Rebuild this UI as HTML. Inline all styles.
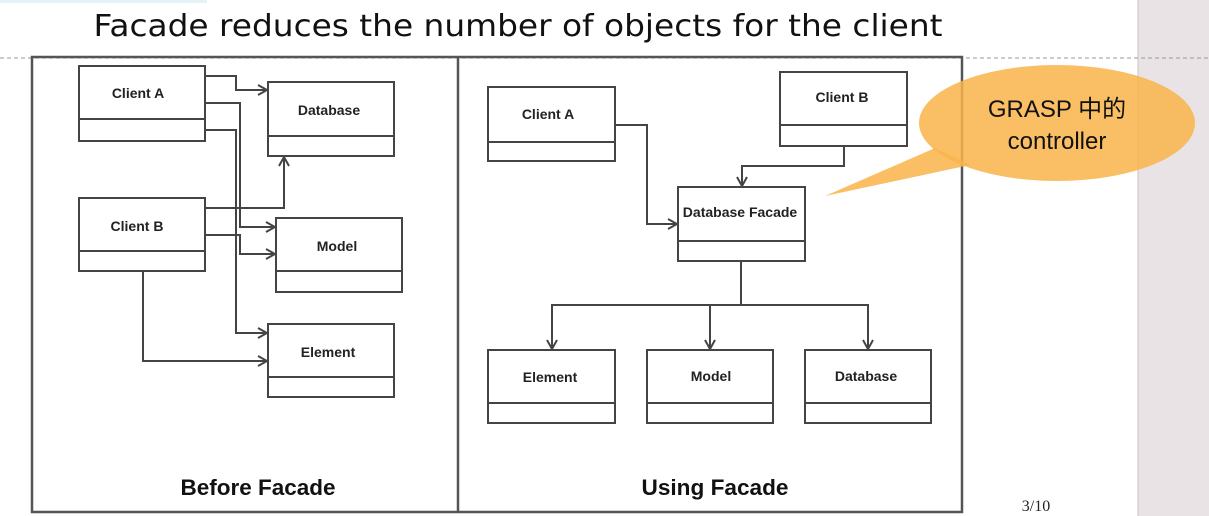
<!DOCTYPE html>
<html><head><meta charset="utf-8"><style>
html,body{margin:0;padding:0;background:#fff;}
body{width:1209px;height:516px;overflow:hidden;position:relative;}
svg{position:absolute;left:0;top:0;}
</style></head><body>
<svg width="1209" height="516" xmlns="http://www.w3.org/2000/svg">
<defs>
<marker id="a" markerWidth="12" markerHeight="12" refX="10" refY="6" orient="auto" markerUnits="userSpaceOnUse">
<path d="M1,1 L10,6 L1,11" fill="none" stroke="#444" stroke-width="2"/>
</marker>
</defs>
<rect x="1138" y="0" width="71" height="516" fill="#e9e3e6"/>
<line x1="1138" y1="0" x2="1138" y2="516" stroke="#c8c4c6"/>
<rect x="0" y="0" width="207" height="3" fill="#e4f4f6"/>
<line x1="0" y1="58" x2="1209" y2="58" stroke="#999" stroke-dasharray="4,3"/>
<text x="518" y="36" text-anchor="middle" font-family="DejaVu Sans, sans-serif" font-size="30" textLength="849" lengthAdjust="spacingAndGlyphs" fill="#111">Facade reduces the number of objects for the client</text>
<g fill="none" stroke="#555" stroke-width="2.5">
<rect x="32" y="57" width="930" height="455"/>
<line x1="458" y1="57" x2="458" y2="512"/>
</g>
<g fill="#fff" stroke="#444" stroke-width="2">
<rect x="79" y="66" width="126" height="75"/><line x1="79" y1="119" x2="205" y2="119"/>
<rect x="268" y="82" width="126" height="74"/><line x1="268" y1="136" x2="394" y2="136"/>
<rect x="79" y="198" width="126" height="73"/><line x1="79" y1="251" x2="205" y2="251"/>
<rect x="276" y="218" width="126" height="74"/><line x1="276" y1="271" x2="402" y2="271"/>
<rect x="268" y="324" width="126" height="73"/><line x1="268" y1="377" x2="394" y2="377"/>
<rect x="488" y="87" width="127" height="74"/><line x1="488" y1="142" x2="615" y2="142"/>
<rect x="780" y="72" width="127" height="74"/><line x1="780" y1="125" x2="907" y2="125"/>
<rect x="678" y="187" width="127" height="74"/><line x1="678" y1="241" x2="805" y2="241"/>
<rect x="488" y="350" width="127" height="73"/><line x1="488" y1="403" x2="615" y2="403"/>
<rect x="647" y="350" width="126" height="73"/><line x1="647" y1="403" x2="773" y2="403"/>
<rect x="805" y="350" width="126" height="73"/><line x1="805" y1="403" x2="931" y2="403"/>
</g>
<g fill="none" stroke="#444" stroke-width="2" marker-end="url(#a)">
<path d="M205,76 H236 V90 H267"/>
<path d="M205,103 H240 V227 H275"/>
<path d="M205,130 H236 V333 H267"/>
<path d="M205,208 H284 V157"/>
<path d="M205,235 H240 V254 H275"/>
<path d="M143,271 V361 H267"/>
<path d="M615,125 H647 V224 H677"/>
<path d="M844,146 V166 H742 V186"/>
<path d="M741,305 H552 V349"/>
<path d="M741,305 H710 V349"/>
<path d="M741,261 V305 H868 V349"/>
</g>
<g font-family="Liberation Sans, Arial, sans-serif" font-weight="bold" font-size="14" fill="#222" text-anchor="middle">
<text x="138" y="98">Client A</text>
<text x="329" y="115">Database</text>
<text x="137" y="231">Client B</text>
<text x="337" y="251">Model</text>
<text x="328" y="357">Element</text>
<text x="548" y="119">Client A</text>
<text x="842" y="102">Client B</text>
<text x="740" y="217">Database Facade</text>
<text x="550" y="382">Element</text>
<text x="711" y="381">Model</text>
<text x="866" y="381">Database</text>
</g>
<g font-family="Liberation Sans, Arial, sans-serif" font-weight="bold" font-size="22" fill="#111" text-anchor="middle">
<text x="258" y="495" textLength="155" lengthAdjust="spacingAndGlyphs">Before Facade</text>
<text x="715" y="495" textLength="147" lengthAdjust="spacingAndGlyphs">Using Facade</text>
</g>
<g fill="#f9b44a" fill-opacity="0.85">
<ellipse cx="1057" cy="123" rx="138" ry="58"/>
<path d="M935,148 L825,196 L970,165 Z"/>
</g>
<g font-family="Liberation Sans, 'Noto Sans CJK SC', sans-serif" font-size="24" fill="#111" text-anchor="middle">
<text x="1057" y="117">GRASP 中的</text>
<text x="1057" y="149">controller</text>
</g>
<text x="1036" y="511" text-anchor="middle" font-family="Liberation Serif, serif" font-size="16" fill="#222">3/10</text>
</svg>
</body></html>
